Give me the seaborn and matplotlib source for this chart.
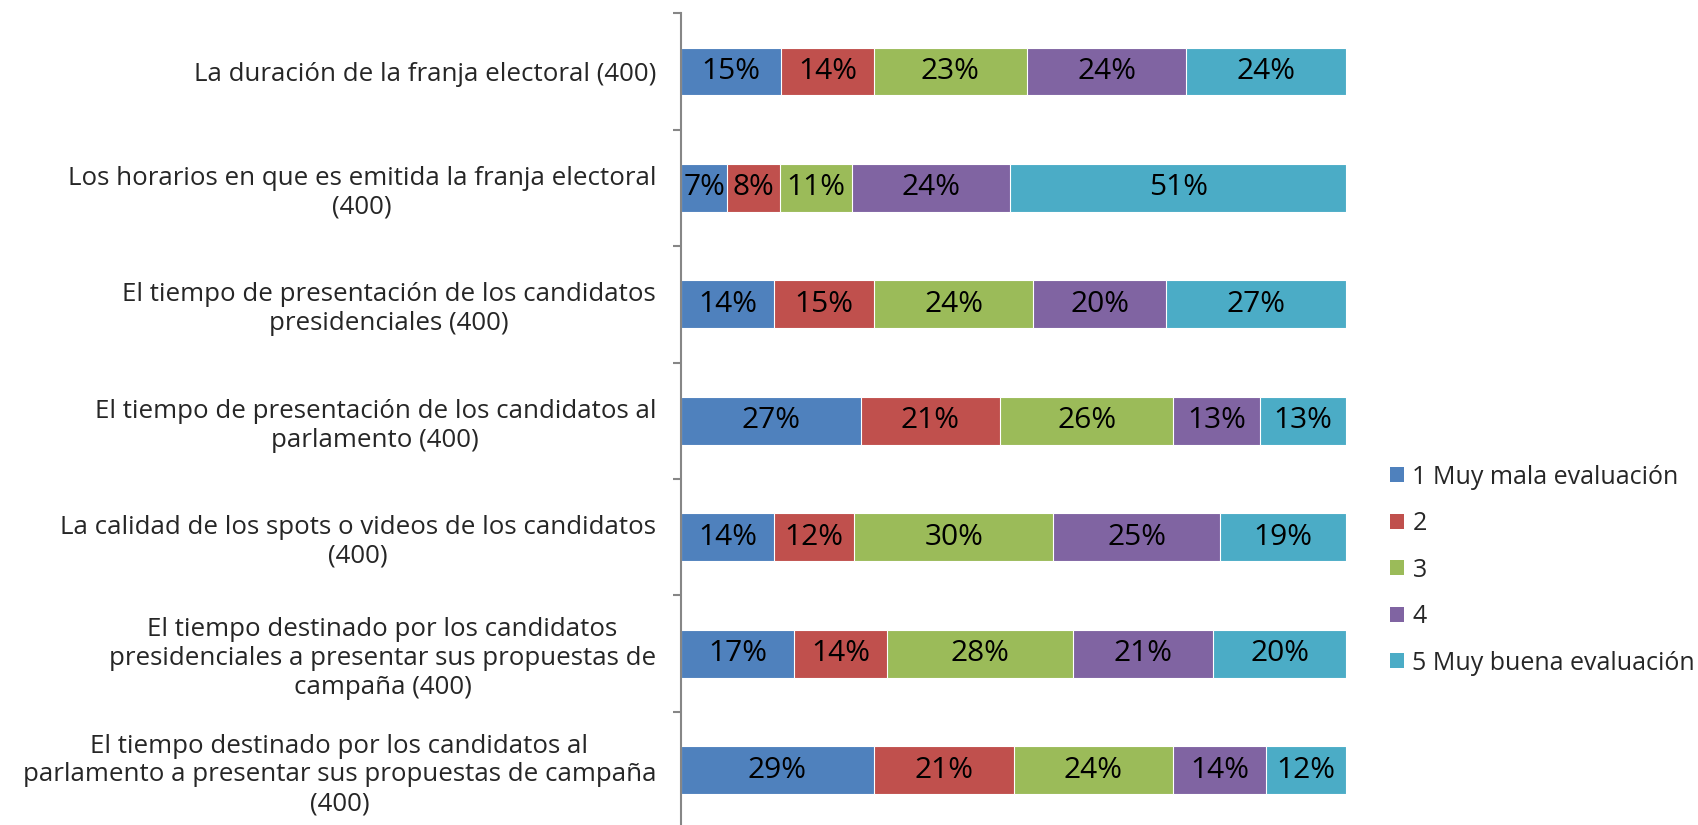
import pandas as pd
import numpy as np
import matplotlib
matplotlib.use("Agg")
import matplotlib.pyplot as plt
from matplotlib.patches import Patch
from matplotlib.ticker import FixedLocator
import seaborn as sns

# datos
categorias = [
    "La duración de la franja electoral (400)",
    "Los horarios en que es emitida la franja electoral\n(400)",
    "El tiempo de presentación de los candidatos\npresidenciales (400)",
    "El tiempo de presentación de los candidatos al\nparlamento (400)",
    "La calidad de los spots o videos de los candidatos\n(400)",
    "El tiempo destinado por los candidatos\npresidenciales a presentar sus propuestas de\ncampaña (400)",
    "El tiempo destinado por los candidatos al\nparlamento a presentar sus propuestas de campaña\n(400)",
]
series = ["1 Muy mala evaluación", "2", "3", "4", "5 Muy buena evaluación"]
nota_1 = [15, 7, 14, 27, 14, 17, 29]
nota_2 = [14, 8, 15, 21, 12, 14, 21]
nota_3 = [23, 11, 24, 26, 30, 28, 24]
nota_4 = [24, 24, 20, 13, 25, 21, 14]
nota_5 = [24, 51, 27, 13, 19, 20, 12]
colores = ["#4F81BD", "#C0504D", "#9BBB59", "#8064A2", "#4BACC6"]

sns.set_style("white")
plt.rcParams["font.family"] = ["Open Sans", "DejaVu Sans"]

valores = np.array([nota_1, nota_2, nota_3, nota_4, nota_5], dtype=float)
proporcion = valores / valores.sum(axis=0)  # cada barra llega al 100%
acumulado = proporcion.cumsum(axis=0)

fig = plt.figure(figsize=(16.98, 8.25), dpi=100)
ax = fig.add_axes([0.4011, -0.004, 0.3916, 0.988])

# barras apiladas: se dibuja el acumulado de mayor a menor
for k in range(len(series) - 1, -1, -1):
    df = pd.DataFrame({"categoria": categorias, "acum": acumulado[k]})
    sns.barplot(data=df, x="acum", y="categoria", order=categorias, orient="h",
                color=colores[k], saturation=1, width=0.41,
                edgecolor="white", linewidth=0.8, ax=ax)

for k in range(len(series)):
    for i in range(len(categorias)):
        centro = acumulado[k, i] - proporcion[k, i] / 2
        ax.text(centro, i, f"{int(valores[k, i])}%", ha="center", va="center",
                fontsize=21.5, color="black")

ax.set_xlim(0, 1)
ax.set_ylim(len(categorias) - 0.5, -0.5)
ax.set_xlabel("")
ax.set_ylabel("")
ax.xaxis.set_visible(False)
for s in ["top", "right", "bottom"]:
    ax.spines[s].set_visible(False)
ax.spines["left"].set_color("#868686")
ax.spines["left"].set_linewidth(1.5)

ax.set_yticks(range(len(categorias)))
ax.set_yticklabels(categorias, fontsize=18.6, multialignment="center")
ax.tick_params(axis="y", which="major", left=False, length=0, pad=18)
ax.yaxis.set_minor_locator(FixedLocator(np.arange(-0.5, len(categorias), 1.0)))
ax.tick_params(axis="y", which="minor", left=True, length=6, width=1.5,
               color="#868686")

handles = [Patch(facecolor=c, edgecolor="none") for c in colores]
fig.legend(handles, series, loc="center left", bbox_to_anchor=(0.8186, 0.309),
           frameon=False, fontsize=18, handlelength=0.55, handleheight=0.55,
           handletextpad=0.35, labelspacing=0.86, borderpad=0, borderaxespad=0)

fig.savefig("out.png", dpi=100)
